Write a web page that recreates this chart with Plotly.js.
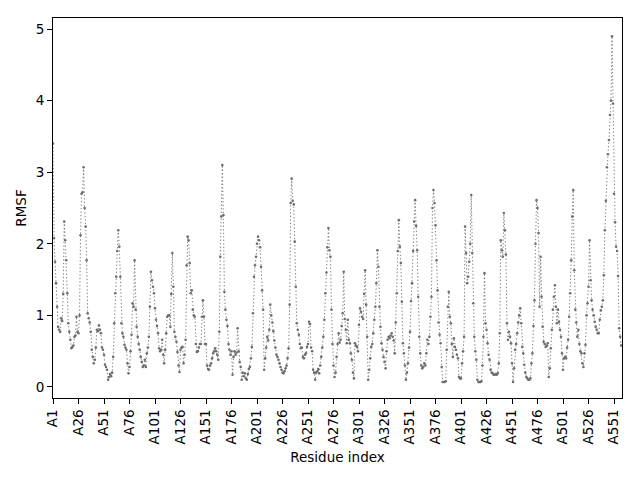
<!DOCTYPE html>
<html>
<head>
<meta charset="utf-8">
<script src="https://cdn.plot.ly/plotly-3.0.1.min.js"></script>
<style>
    html, body { margin: 0; padding: 0; background: #fff; }
    #chart { width: 640px; height: 480px; }
</style>
</head>
<body>
<div id="chart"></div>
<script>
// RMSF per residue, 25 residues per row
const rmsf = [
    3.4, 2.08, 1.75, 1.45, 1.12, 0.84, 0.8, 0.77, 0.96, 0.92, 1.3, 2.31, 2.05, 1.77, 1.31, 0.89, 0.77, 0.66, 0.54, 0.56, 0.58, 0.7, 0.72, 0.98, 0.77,
    0.75, 1.0, 2.12, 2.7, 2.72, 3.07, 2.5, 2.24, 1.77, 1.03, 0.96, 0.9, 0.77, 0.52, 0.42, 0.33, 0.38, 0.55, 0.8, 0.78, 0.86, 0.8, 0.75, 0.55, 0.52,
    0.45, 0.31, 0.28, 0.24, 0.1, 0.14, 0.18, 0.15, 0.2, 0.42, 0.89, 1.31, 1.54, 1.9, 2.19, 1.96, 1.54, 0.89, 0.75, 0.7, 0.59, 0.55, 0.52, 0.33, 0.19,
    0.28, 0.5, 0.73, 1.17, 1.12, 1.77, 1.08, 0.84, 0.7, 0.6, 0.52, 0.42, 0.35, 0.28, 0.3, 0.38, 0.28, 0.47, 0.55, 0.7, 1.12, 1.61, 1.49, 1.4, 1.31,
    1.1, 0.94, 0.85, 0.75, 0.54, 0.5, 0.52, 0.66, 0.45, 0.33, 0.52, 0.75, 0.98, 1.0, 1.0, 0.84, 1.3, 1.87, 1.4, 0.77, 0.7, 0.63, 0.49, 0.3, 0.21,
    0.52, 0.55, 0.56, 0.33, 0.45, 0.66, 1.7, 2.1, 2.05, 1.73, 1.31, 1.35, 1.08, 1.0, 0.98, 0.6, 0.49, 0.5, 0.55, 0.6, 0.6, 0.98, 1.21, 0.98, 0.6,
    0.6, 0.3, 0.25, 0.24, 0.3, 0.33, 0.4, 0.47, 0.5, 0.54, 0.5, 0.45, 0.38, 0.77, 1.82, 2.38, 3.1, 2.4, 1.33, 1.08, 0.94, 0.85, 0.6, 0.52, 0.45,
    0.5, 0.17, 0.42, 0.5, 0.45, 0.48, 0.82, 0.5, 0.35, 0.28, 0.1, 0.2, 0.15, 0.19, 0.12, 0.1, 0.18, 0.25, 0.28, 0.4, 0.56, 1.03, 1.54, 1.7, 1.82,
    2.0, 2.1, 2.05, 1.95, 1.68, 1.35, 1.08, 0.24, 0.4, 0.55, 0.7, 0.65, 0.8, 1.15, 1.0, 0.9, 0.78, 0.65, 0.55, 0.45, 0.42, 0.38, 0.33, 0.28, 0.24,
    0.2, 0.19, 0.22, 0.26, 0.3, 0.4, 0.54, 1.15, 2.57, 2.91, 2.6, 2.55, 2.03, 1.4, 0.89, 0.8, 0.73, 0.6, 0.54, 0.55, 0.42, 0.4, 0.45, 0.47, 0.56,
    0.6, 0.91, 0.88, 0.55, 0.5, 0.24, 0.2, 0.1, 0.2, 0.22, 0.25, 0.19, 0.3, 0.42, 0.55, 0.7, 0.94, 1.31, 1.6, 1.95, 2.22, 1.91, 1.82, 1.08, 0.6,
    0.3, 0.14, 0.2, 0.42, 0.6, 0.75, 0.62, 0.66, 0.85, 1.03, 1.61, 0.95, 0.8, 0.61, 0.94, 0.66, 0.61, 0.47, 0.38, 0.2, 0.12, 0.61, 0.58, 0.56, 0.5,
    0.87, 1.1, 1.05, 0.98, 0.95, 1.3, 1.63, 1.15, 0.7, 0.1, 0.24, 0.4, 0.56, 0.6, 0.75, 0.94, 1.12, 1.45, 1.91, 1.68, 1.12, 0.84, 0.61, 0.52, 0.42,
    0.35, 0.26, 0.5, 0.66, 0.7, 0.68, 0.72, 0.75, 0.7, 0.65, 0.47, 0.9, 1.31, 1.9, 2.33, 1.96, 1.73, 1.19, 0.61, 0.47, 0.3, 0.1, 0.2, 0.33, 0.55,
    0.77, 1.2, 1.45, 1.9, 2.31, 2.61, 2.25, 1.91, 1.26, 0.7, 0.47, 0.3, 0.26, 0.28, 0.33, 0.3, 0.47, 0.66, 0.6, 0.7, 0.98, 1.26, 2.5, 2.75, 2.57,
    2.26, 1.77, 1.35, 0.9, 0.73, 0.61, 0.28, 0.07, 0.07, 0.07, 0.08, 0.52, 1.12, 1.33, 0.98, 0.89, 0.6, 0.42, 0.68, 0.56, 0.52, 0.45, 0.4, 0.14, 0.12,
    0.12, 0.33, 0.5, 0.7, 2.24, 1.87, 1.45, 1.54, 1.75, 2.0, 2.68, 1.87, 1.17, 0.7, 0.5, 0.38, 0.1, 0.07, 0.07, 0.07, 0.08, 0.3, 0.7, 1.59, 0.89,
    0.8, 0.61, 0.45, 0.38, 0.24, 0.2, 0.19, 0.17, 0.17, 0.18, 0.17, 0.19, 0.33, 0.75, 2.05, 1.91, 1.82, 2.43, 2.19, 1.85, 0.89, 0.66, 0.77, 0.7, 0.61,
    0.33, 0.07, 0.26, 0.52, 0.6, 0.75, 0.9, 1.0, 1.1, 0.89, 0.56, 0.47, 0.31, 0.2, 0.14, 0.12, 0.1, 0.1, 0.12, 0.33, 0.47, 0.85, 1.21, 2.0, 2.61,
    2.5, 2.15, 1.12, 1.82, 1.26, 0.84, 0.63, 0.6, 0.56, 0.58, 0.61, 0.14, 0.26, 0.54, 0.8, 1.08, 1.26, 1.42, 1.12, 0.89, 1.08, 0.91, 0.8, 0.7, 0.47,
    0.24, 0.4, 0.42, 0.4, 0.55, 0.66, 0.98, 1.31, 1.77, 2.38, 2.75, 1.63, 1.08, 0.9, 0.7, 0.8, 0.6, 0.5, 0.47, 0.33, 0.28, 0.47, 0.59, 1.0, 1.17,
    1.4, 2.05, 1.49, 1.21, 1.08, 1.0, 0.91, 0.84, 0.8, 0.75, 0.75, 0.94, 1.07, 1.12, 1.21, 1.56, 2.19, 2.6, 3.07, 3.25, 3.45, 3.8, 4.0, 4.9, 3.96,
    2.7, 2.3, 1.96, 1.9, 1.55, 0.82, 0.7, 0.58
];

// residue numbers and the labelled ones on the x axis
const residues = rmsf.map((v, i) => i + 1);
const tickResidues = [1, 26, 51, 76, 101, 126, 151, 176, 201, 226, 251, 276, 301, 326, 351, 376, 401, 426, 451, 476, 501, 526, 551];
const tickLabels = tickResidues.map(r => 'A' + r);
const yTicks = [0, 1, 2, 3, 4, 5];

const FONT = { family: 'DejaVu Sans, sans-serif', size: 13.5, color: '#000' };
const LINE_COLOR = '#6e6e6e';

function drawRmsf(containerId) {
    const trace = {
        x: residues,
        y: rmsf,
        type: 'scatter',
        mode: 'lines+markers',
        line: { color: LINE_COLOR, width: 0.9, dash: '1.3px,2.2px' },
        marker: { color: LINE_COLOR, size: 2.6 },
        hoverinfo: 'skip'
    };

    const axisBase = {
        showline: true,
        mirror: true,
        linecolor: '#000',
        linewidth: 1,
        ticks: 'outside',
        ticklen: 5,
        tickwidth: 1,
        tickcolor: '#000',
        showgrid: false,
        zeroline: false,
        tickfont: FONT
    };

    const layout = {
        width: 640,
        height: 480,
        margin: { l: 53, r: 18, t: 18, b: 82 },
        paper_bgcolor: '#fff',
        plot_bgcolor: '#fff',
        showlegend: false,
        font: FONT,
        xaxis: {
            ...axisBase,
            range: [1, 558.8],
            tickmode: 'array',
            tickvals: tickResidues,
            ticktext: tickLabels,
            tickangle: -90,
            title: { text: 'Residue index', font: FONT, standoff: 9 }
        },
        yaxis: {
            ...axisBase,
            range: [-0.154, 5.154],
            tickmode: 'array',
            tickvals: yTicks,
            ticktext: yTicks.map(String),
            title: { text: 'RMSF', font: FONT, standoff: 5 }
        }
    };

    Plotly.newPlot(containerId, [trace], layout, { displayModeBar: false, staticPlot: true });
}

drawRmsf('chart');
</script>
</body>
</html>
